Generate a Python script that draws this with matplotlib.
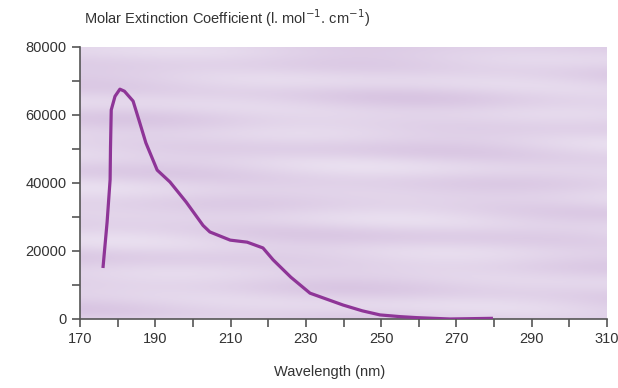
import matplotlib
matplotlib.use("Agg")
import matplotlib.pyplot as plt
import numpy as np
from matplotlib.ticker import MultipleLocator
from matplotlib.colors import LinearSegmentedColormap

wavelength = [176.1, 177.2, 178.0, 178.1, 178.3, 179.3, 180.6, 181.8, 184.1, 185.8,
              187.5, 190.5, 193.9, 198.2, 202.7, 204.5, 209.9, 214.4, 218.6, 221.3,
              226.0, 231.1, 239.9, 245.0, 249.7, 255.0, 259.5, 268.3, 279.7]
epsilon = [15000, 28500, 41000, 50300, 61500, 65500, 67600, 67000, 64100, 58000,
           51800, 43800, 40300, 34400, 27500, 25600, 23200, 22600, 20900, 17400,
           12300, 7600, 4100, 2400, 1200, 700, 400, 0, 200]
x_ticks = [170, 190, 210, 230, 250, 270, 290, 310]
y_ticks = [0, 20000, 40000, 60000, 80000]

plt.rcParams['font.family'] = ['Liberation Sans', 'DejaVu Sans']

fig = plt.figure(figsize=(6.18, 3.88), dpi=100)
ax = fig.add_axes([80/618, 1-319/388, (607-80)/618, (319-47)/388])

# soft mottled background (decorative)
yy, xx = np.mgrid[0:1:120j, 0:1:240j]
tex = (0.5 + 0.16*np.sin(yy*37) * np.cos(xx*5.3) + 0.1*np.sin(yy*61 + xx*3)
       + 0.1*np.cos(xx*11 + yy*7))
cmap = LinearSegmentedColormap.from_list("bg", ["#ebe2f1", "#d6c1e0"])
ax.imshow(tex, extent=[170, 310, 0, 80000], aspect='auto', cmap=cmap,
          vmin=0.1, vmax=0.95, origin='lower', zorder=0, interpolation='bilinear')

ax.plot(wavelength, epsilon, color='#8e3597', lw=2.3, solid_capstyle='butt',
        solid_joinstyle='round', zorder=3)

ax.set_xlim(170, 310)
ax.set_ylim(0, 80000)
ax.set_xticks(x_ticks)
ax.set_yticks(y_ticks)
ax.xaxis.set_minor_locator(MultipleLocator(10))
ax.yaxis.set_minor_locator(MultipleLocator(10000))
for s in ['top', 'right']:
    ax.spines[s].set_visible(False)
for s in ['left', 'bottom']:
    ax.spines[s].set_color('#555555')
    ax.spines[s].set_linewidth(1.2)
ax.tick_params(which='both', direction='out', color='#555555', width=1.2,
               labelsize=10.5, labelcolor='#333333')
ax.tick_params(which='major', length=6)
ax.tick_params(which='minor', length=6)
fig.text(330/618, 1-372/388, 'Wavelength (nm)', fontsize=10.5, color='#333333',
         ha='center', va='center')
fig.text(84/618, 1-18/388, 'Molar Extinction Coefficient (l. mol$^{-1}$. cm$^{-1}$)',
         fontsize=10.5, color='#333333', va='center', ha='left')

fig.savefig('out.png', dpi=100)
